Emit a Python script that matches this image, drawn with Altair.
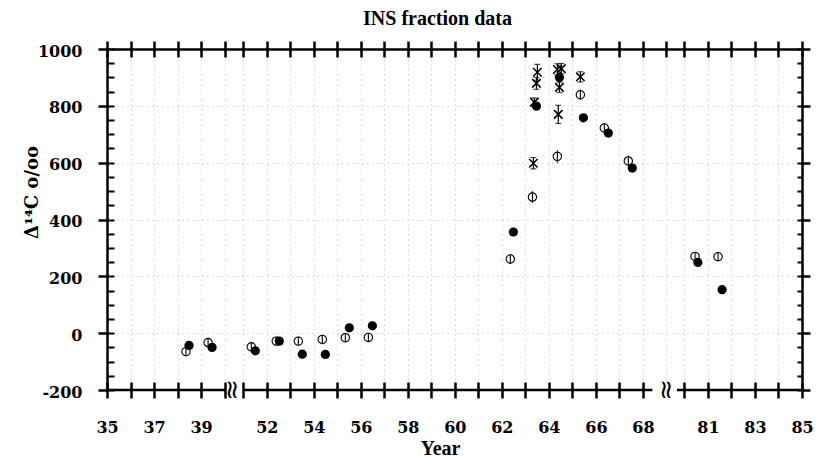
import altair as alt
import pandas as pd

# ---------------- data ----------------
open_year = [38.36, 39.30, 51.34, 52.40, 53.34, 54.36, 55.34, 56.32,
             62.36, 63.30, 64.36, 65.34, 66.36, 67.38, 80.45, 81.43]
open_val = [-65, -33, -48, -28, -28, -22, -16, -15,
            261, 479, 622, 839, 722, 606, 270, 269]
open_err = [15, 15, 15, 15, 15, 15, 15, 15,
            18, 20, 22, 18, 18, 18, 15, 15]

filled_year = [38.49, 39.47, 51.51, 52.53, 53.51, 54.49, 55.51, 56.49,
               62.49, 63.47, 64.45, 65.47, 66.53, 67.55, 80.57, 81.60]
filled_val = [-43, -50, -62, -28, -74, -75, 19, 26,
              356, 799, 900, 758, 704, 581, 249, 153]

cross_year = [63.34, 63.38, 63.47, 63.51, 64.36, 64.40, 64.45, 64.53, 65.34]
cross_val = [598, 813, 879, 918, 928, 770, 865, 931, 902]
cross_err = [20, 15, 21, 28, 20, 32, 18, 18, 18]

# axis ticks / labels (years)
bottom_tick_years = list(range(35, 41)) + list(range(51, 69)) + list(range(80, 86))
top_tick_years = list(range(35, 41)) + list(range(51, 70)) + list(range(80, 86))
label_years = [35, 37, 39, 52, 54, 56, 58, 60, 62, 64, 66, 68, 81, 83, 85]
y_major = [-200, 0, 200, 400, 600, 800, 1000]
y_minor = list(range(-200, 1001, 50))

# broken-axis definition: (first year, last year, scale position of first year)
SEGMENTS = [(35, 40, 0.0), (51, 69, 5.8), (80, 85, 24.57)]
DOMAIN_SEGS = [(35, 40.05), (51, 68.4), (79.68, 85)]
BREAK_YEARS = [40.33, 69.0]
X_MAX = 29.57


def to_pos(y):
    for lo, hi, p0 in SEGMENTS:
        if lo - 1.5 <= y <= hi + 1.5:
            return round(p0 + (y - lo), 3)
    raise ValueError(y)


bottom_pos = [to_pos(v) for v in bottom_tick_years]
top_pos = [to_pos(v) for v in top_tick_years]
label_txt = ["'" + (str(v) if v in label_years else "") + "'" for v in bottom_tick_years]
label_expr = "[" + ",".join(label_txt) + "][indexof([" + ",".join(str(p) for p in bottom_pos) + "], datum.value)]"

open_df = pd.DataFrame({"pos": [to_pos(v) for v in open_year], "v": open_val,
                        "lo": [a - b for a, b in zip(open_val, open_err)],
                        "hi": [a + b for a, b in zip(open_val, open_err)]})
filled_df = pd.DataFrame({"pos": [to_pos(v) for v in filled_year], "v": filled_val})
cross_df = pd.DataFrame({"pos": [to_pos(v) for v in cross_year], "v": cross_val,
                         "lo": [a - b for a, b in zip(cross_val, cross_err)],
                         "hi": [a + b for a, b in zip(cross_val, cross_err)]})
cap_df = pd.concat([cross_df[["pos", "lo"]].rename(columns={"lo": "c"}),
                    cross_df[["pos", "hi"]].rename(columns={"hi": "c"})])
seg_df = pd.DataFrame({"x": [to_pos(a) for a, b in DOMAIN_SEGS],
                       "x2": [to_pos(b) for a, b in DOMAIN_SEGS],
                       "y": [-200] * len(DOMAIN_SEGS)})
break_df = pd.DataFrame({"x": [to_pos(v) for v in BREAK_YEARS], "y": [-200] * len(BREAK_YEARS)})

XS = alt.Scale(domain=[0, X_MAX], nice=False, zero=False)
YS = alt.Scale(domain=[-200, 1000], nice=False, zero=False)

NUMFONT = "DejaVu Serif"
SERIF = "Liberation Serif"

ax_bottom = alt.Axis(orient="bottom", values=bottom_pos, offset=-8, tickSize=16,
                     domain=False, grid=False, labelExpr=label_expr,
                     labelFont=NUMFONT, labelFontWeight="bold", labelFontSize=16,
                     labelBaseline="alphabetic", labelPadding=34, labelFlush=False,
                     labelOverlap=False, title="Year", titleFont=SERIF,
                     titleFontSize=20, titleFontWeight="bold", titleBaseline="alphabetic",
                     titleX=333, titleY=72)
ax_top_ticks = alt.Axis(orient="top", values=top_pos, offset=-8, tickSize=16,
                        domain=False, grid=False, labels=False, title="")
ax_top_line = alt.Axis(orient="top", values=top_pos, offset=0, ticks=False,
                       domain=True, grid=True, labels=False, title="")
ax_left_major = alt.Axis(orient="left", values=y_major, offset=0, tickSize=9,
                         domain=True, grid=True, labelFont=NUMFONT,
                         labelExpr="'' + datum.value",
                         labelFontWeight="bold", labelFontSize=16, labelPadding=16,
                         labelOffset=2, title="Δ¹⁴C  o/oo", titleFont=NUMFONT,
                         titleFontSize=18, titleFontWeight="bold", titleX=-75, titleY=143,
                         titleBaseline="middle", titleAlign="center")
ax_left_minor = alt.Axis(orient="left", values=y_minor, offset=-7, tickSize=7,
                         tickWidth=2, domain=False, grid=False, labels=False, title="")
ax_right_major = alt.Axis(orient="right", values=y_major, offset=0, tickSize=8,
                          domain=True, grid=False, labels=False, title="")
ax_right_minor = alt.Axis(orient="right", values=y_minor, offset=-5, tickSize=5,
                          tickWidth=2, domain=False, grid=False, labels=False, title="")

l_axisline = alt.Chart(seg_df).mark_rule(color="black", strokeWidth=2.5).encode(
    x=alt.X("x:Q", scale=XS, axis=ax_bottom), x2="x2:Q",
    y=alt.Y("y:Q", scale=YS, axis=ax_left_major))

l_open = alt.Chart(open_df).mark_point(shape="circle", filled=True, fill="white",
                                       stroke="black", strokeWidth=1.1, size=70,
                                       opacity=1).encode(
    x=alt.X("pos:Q", scale=XS, axis=ax_top_ticks),
    y=alt.Y("v:Q", scale=YS, axis=ax_left_minor))

l_open_bar = alt.Chart(open_df).mark_rule(color="black", strokeWidth=1.1).encode(
    x=alt.X("pos:Q", scale=XS, axis=ax_top_line),
    y=alt.Y("lo:Q", scale=YS, axis=ax_right_major), y2="hi:Q")

l_filled = alt.Chart(filled_df).mark_circle(color="black", size=85, opacity=1).encode(
    x=alt.X("pos:Q", scale=XS, axis=None),
    y=alt.Y("v:Q", scale=YS, axis=ax_right_minor))

l_cross_bar = alt.Chart(cross_df).mark_rule(color="black", strokeWidth=1.2).encode(
    x=alt.X("pos:Q", scale=XS, axis=None),
    y=alt.Y("lo:Q", scale=YS, axis=None), y2="hi:Q")

l_cross_cap = alt.Chart(cap_df).mark_tick(color="black", orient="horizontal",
                                          size=6, thickness=1.2).encode(
    x=alt.X("pos:Q", scale=XS, axis=None),
    y=alt.Y("c:Q", scale=YS, axis=None))

l_cross = alt.Chart(cross_df).mark_point(shape="M-1,-1L1,1M-1,1L1,-1", filled=False,
                                         color="black", strokeWidth=1.5, size=72,
                                         opacity=1).encode(
    x=alt.X("pos:Q", scale=XS, axis=None),
    y=alt.Y("v:Q", scale=YS, axis=None))

l_break = alt.Chart(break_df).mark_text(text="≈", angle=90, fontSize=26,
                                        font="DejaVu Sans", color="black",
                                        align="center", baseline="middle").encode(
    x=alt.X("x:Q", scale=XS, axis=None),
    y=alt.Y("y:Q", scale=YS, axis=None))

chart = alt.layer(
    l_axisline, l_open, l_open_bar, l_filled, l_cross_bar, l_cross_cap, l_cross, l_break
).resolve_axis(x="independent", y="independent").properties(
    width=695, height=341,
    padding={"left": 107, "top": 49, "right": 14, "bottom": 67},
    autosize=alt.AutoSizeParams(type="none"),
    title=alt.TitleParams(text="INS fraction data", font=SERIF, fontSize=20,
                          fontWeight="bold", color="black", anchor="middle",
                          dx=-17, dy=5, offset=0, baseline="alphabetic"),
    background="white",
).configure_view(stroke="transparent").configure_axis(
    tickColor="black", domainColor="black", labelColor="black", titleColor="black",
    tickWidth=2.5, domainWidth=2.5, gridColor="#8a8a8a", gridDash=[1, 4],
    gridWidth=1, gridOpacity=0.55,
)

chart.save("out.html", embed_options={"renderer": "svg", "actions": False})
